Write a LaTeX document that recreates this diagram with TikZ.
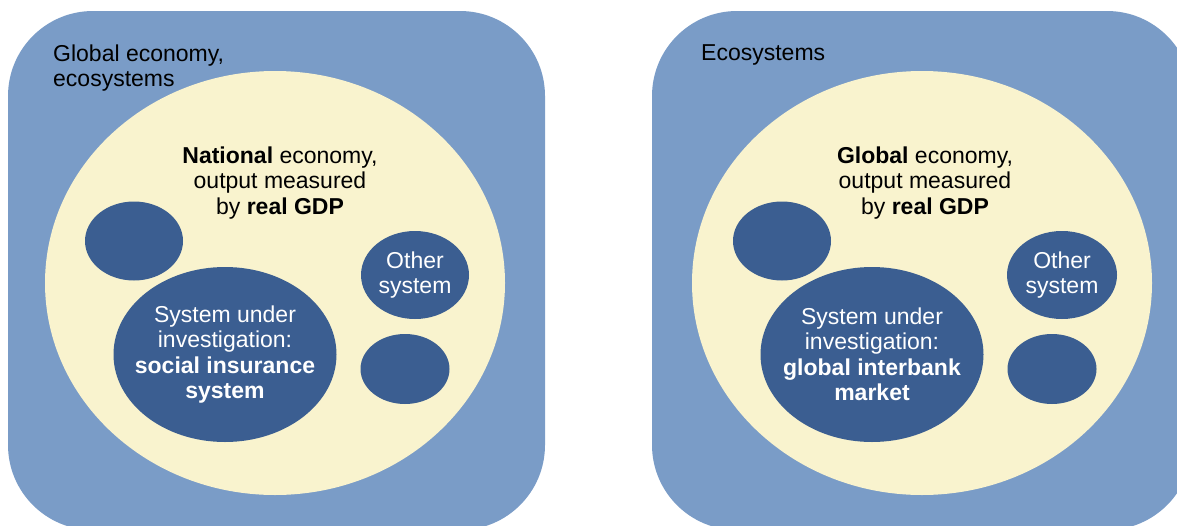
\documentclass[tikz,border=0pt]{standalone}
\usepackage{fontspec}
\setmainfont{Liberation Sans}
\usepackage{xcolor}
\usetikzlibrary{shapes.geometric}
\definecolor{outerblue}{RGB}{122,156,199}
\definecolor{paleyellow}{RGB}{249,243,206}
\definecolor{darkblue}{RGB}{59,94,145}
\tikzset{
  world/.style={fill=outerblue, rounded corners=85pt},
  economy/.style={ellipse, fill=paleyellow, inner sep=0pt},
  system/.style={
    ellipse,
    fill=darkblue,
    inner sep=0pt,
    text=white,
    align=center,
    font=\fontsize{23}{25.5}\selectfont},
  bigsystem/.style={system, inner sep=-16pt, minimum width=223pt, minimum height=175pt},
  txt/.style={inner sep=0pt, align=center, font=\fontsize{23}{25.5}\selectfont}
  }

\begin{document}
\begin{tikzpicture}[x=1pt,y=-1pt]
    \path[use as bounding box, clip] (0,0) rectangle (1177,525);
    % left panel
    \path[world] (8,11) rectangle (545,530);
    \node[economy, minimum width=460pt, minimum height=424pt] (nat) at (275,283) {};
    \node[system, minimum width=98pt, minimum height=79pt] (natA) at (134,241) {};
    \node[system, minimum width=108pt, minimum height=88pt] (natOther) at (415,275) {Other\\system};
    \node[system, minimum width=89pt, minimum height=70pt] (natB) at (405,369) {};
    \node[bigsystem] (natSys) at (225,354.5)
      {System under\\investigation:\\\textbf{social insurance}\\\textbf{system}};
    \node[txt, align=left, anchor=north west] (natWorld) at (53,44.5) {Global economy,\\ecosystems};
    \node[txt] (natTitle) at (280,183) {\textbf{National} economy,\\output measured\\by \textbf{real GDP}};
    % right panel
    \path[world] (652,11) rectangle (1192,530);
    \node[economy, minimum width=460pt, minimum height=424pt] (glob) at (922,283) {};
    \node[system, minimum width=98pt, minimum height=79pt] (globA) at (782,241) {};
    \node[system, minimum width=110pt, minimum height=88pt] (globOther) at (1062,275) {Other\\system};
    \node[system, minimum width=89pt, minimum height=70pt] (globB) at (1052,369) {};
    \node[bigsystem] (globSys) at (872,354.5)
      {System under\\investigation:\\\textbf{global interbank}\\\textbf{market}};
    \node[txt, align=left, anchor=north west] (globWorld) at (701,44.5) {Ecosystems};
    \node[txt] (globTitle) at (925,183) {\textbf{Global} economy,\\output measured\\by \textbf{real GDP}};
\end{tikzpicture}
\end{document}
